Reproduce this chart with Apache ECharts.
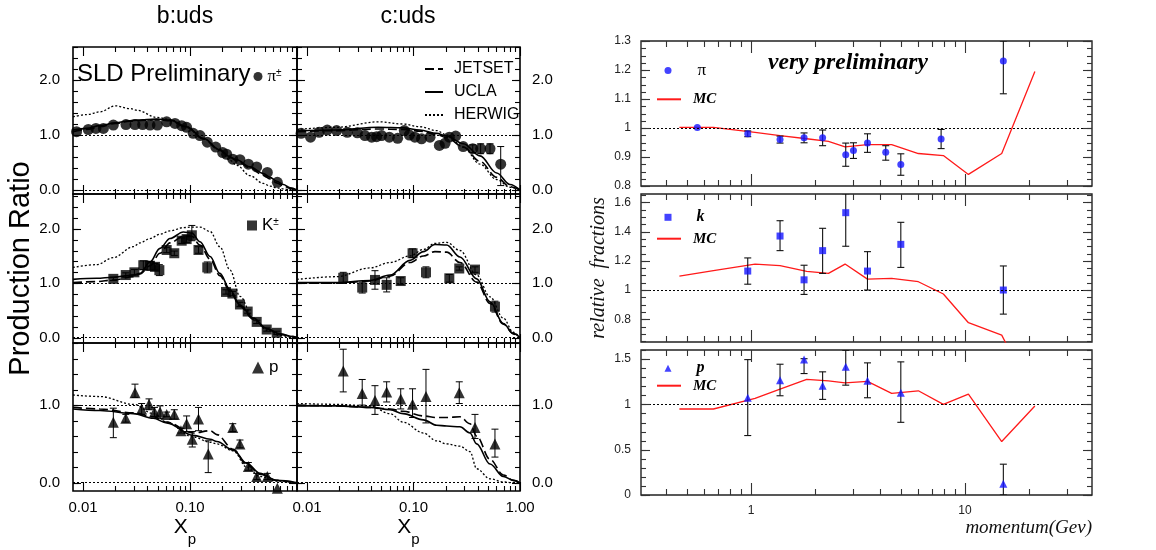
<!DOCTYPE html>
<html><head><meta charset="utf-8">
<script src="https://cdn.jsdelivr.net/npm/echarts@6/dist/echarts.min.js"></script>
<style>html,body{margin:0;padding:0;background:#fff}#c{width:1156px;height:550px}</style>
</head><body><div id="c"></div>
<script>
// ================= DATA =================
// ---- left: production ratio vs x_p ----
// pi+- , b:uds
const piB_x = [0.0087,0.0112,0.0132,0.0155,0.0192,0.0252,0.0306,0.0361,0.0423,0.0495,0.0605,0.0724,0.0836,0.093,0.107,0.124,0.145,0.174,0.202,0.22,0.251,0.293,0.351,0.42,0.528,0.655];
const piB_y = [1.06,1.10,1.12,1.12,1.18,1.19,1.19,1.19,1.18,1.18,1.24,1.21,1.17,1.14,1.03,0.99,0.87,0.78,0.68,0.65,0.56,0.55,0.47,0.42,0.32,0.14];
// pi+- , c:uds
const piC_x = [0.0088,0.0108,0.013,0.0155,0.019,0.0239,0.0297,0.035,0.0405,0.045,0.0502,0.0593,0.071,0.082,0.0914,0.103,0.119,0.143,0.175,0.198,0.217,0.249,0.293,0.36,0.427,0.523,0.659];
const piC_y = [1.03,0.96,1.05,1.09,1.08,1.05,1.04,0.99,0.96,0.97,0.99,0.96,0.94,1.08,1.0,0.96,0.93,0.96,0.81,0.85,0.96,0.98,0.79,0.75,0.75,0.75,0.47];
const piC_eUp = [0,0,0,0,0,0,0,0,0,0,0,0,0,0,0,0,0,0,0,0,0,0,0,0.07,0.09,0.09,0.32];
const piC_eDn = [0,0,0,0,0,0,0,0,0,0,0,0,0,0,0,0,0,0,0,0,0,0,0,0.07,0.09,0.09,0.39];
// K+- , b:uds
const KB_x = [0.0192,0.0251,0.0302,0.0366,0.0423,0.0471,0.0517,0.0605,0.0713,0.0836,0.093,0.104,0.12,0.145,0.217,0.249,0.293,0.346,0.42,0.521,0.646];
const KB_y = [1.08,1.15,1.20,1.33,1.32,1.30,1.24,1.61,1.55,1.78,1.81,1.88,1.61,1.29,0.84,0.81,0.61,0.48,0.29,0.15,0.09];
const KB_eUp = [0.03,0.04,0.05,0.08,0.08,0.06,0.10,0.05,0.04,0.05,0.06,0.18,0.06,0.10,0.04,0.04,0.04,0.03,0.03,0.03,0.03];
const KB_eDn = [0.03,0.04,0.05,0.08,0.08,0.06,0.10,0.05,0.04,0.05,0.06,0.10,0.06,0.10,0.04,0.04,0.04,0.03,0.03,0.03,0.03];
// K+- , c:uds
const KC_x = [0.0219,0.033,0.0435,0.056,0.0759,0.098,0.131,0.217,0.269,0.378,0.582];
const KC_y = [1.10,0.92,1.06,0.97,1.04,1.55,1.20,1.09,1.27,1.25,0.57];
const KC_err = [0.10,0.10,0.17,0.13,0.06,0.08,0.10,0.07,0.03,0.05,0.10];
// p , b:uds
const pB_x = [0.0192,0.0251,0.0306,0.0353,0.0414,0.0465,0.0525,0.0605,0.0713,0.0823,0.093,0.105,0.12,0.148,0.251,0.293,0.351,0.42,0.528,0.655];
const pB_y = [0.78,0.83,1.16,0.95,1.01,0.91,0.91,0.88,0.88,0.67,0.76,0.56,0.82,0.37,0.71,0.50,0.21,0.08,0.08,-0.07];
const pB_eUp = [0.18,0.05,0.11,0.07,0.07,0.06,0.08,0.03,0.06,0.03,0.10,0.10,0.15,0.17,0.05,0.05,0.05,0.04,0.04,0];
const pB_eDn = [0.20,0.05,0.06,0.07,0.07,0.06,0.08,0.03,0.06,0.03,0.10,0.10,0.15,0.24,0.05,0.05,0.05,0.04,0.04,0];
// p , c:uds
const pC_x = [0.0219,0.033,0.0435,0.056,0.0759,0.098,0.131,0.269,0.378,0.582];
const pC_y = [1.44,1.15,1.06,1.17,1.08,1.01,1.11,1.16,0.71,0.50];
const pC_eUp = [0.28,0.18,0.19,0.13,0.13,0.20,0.35,0.14,0.17,0.19];
const pC_eDn = [0.27,0.15,0.18,0.13,0.13,0.17,0.34,0.14,0.14,0.17];

// ---- model curves (JETSET / UCLA / HERWIG) ----
const cvA_x = [0.00806,0.0108,0.0144,0.02,0.0275,0.032,0.049,0.065,0.093,0.133,0.19,0.237,0.273,0.364,0.484,0.56,0.646,0.745,0.861,1.0];
const jetA  = [1.06,1.10,1.15,1.21,1.25,1.26,1.28,1.26,1.14,0.93,0.72,0.59,0.53,0.40,0.27,0.20,0.13,0.08,0.03,0.0];
const uclaA = [1.09,1.12,1.17,1.22,1.26,1.27,1.29,1.27,1.15,0.94,0.73,0.60,0.55,0.42,0.30,0.23,0.16,0.10,0.04,0.0];
const herA  = [1.33,1.37,1.42,1.53,1.48,1.45,1.32,1.28,1.15,0.94,0.73,0.54,0.45,0.26,0.12,0.07,0.04,0.02,0.005,0.0];

const cvB_x = [0.00806,0.019,0.0467,0.08,0.115,0.165,0.205,0.294,0.421,0.604,0.805,1.0];
const jetB  = [1.06,1.08,1.11,1.10,1.07,1.01,0.95,0.78,0.52,0.23,0.06,0.0];
const uclaB = [1.07,1.09,1.14,1.13,1.09,1.03,0.98,0.84,0.62,0.31,0.10,0.0];
const herB  = [1.10,1.14,1.24,1.20,1.15,1.08,1.00,0.78,0.47,0.19,0.05,0.0];

const cvC_x = [0.00806,0.0134,0.0192,0.0295,0.0341,0.0423,0.0524,0.065,0.0866,0.104,0.124,0.154,0.19,0.237,0.293,0.39,0.52,0.694,0.918,1.0];
const jetC  = [1.01,1.03,1.06,1.12,1.17,1.32,1.55,1.74,1.86,1.86,1.70,1.44,1.14,0.85,0.58,0.34,0.16,0.06,0.02,0.0];
const uclaC = [1.07,1.09,1.11,1.15,1.18,1.39,1.64,1.82,1.94,1.92,1.76,1.49,1.18,0.88,0.60,0.36,0.17,0.07,0.02,0.0];
const herC  = [1.29,1.34,1.47,1.67,1.74,1.82,1.90,1.96,2.02,2.03,2.03,1.95,1.67,1.24,0.76,0.36,0.14,0.04,0.01,0.0];

const cvD_x = [0.00806,0.019,0.039,0.0602,0.0927,0.124,0.159,0.205,0.273,0.392,0.523,0.697,0.865,1.0];
const jetD  = [1.00,1.00,1.04,1.13,1.38,1.50,1.58,1.57,1.38,1.02,0.63,0.25,0.07,0.0];
const uclaD = [1.01,1.01,1.05,1.15,1.42,1.58,1.71,1.70,1.48,1.08,0.66,0.26,0.08,0.0];
const herD  = [1.07,1.12,1.28,1.38,1.50,1.62,1.73,1.75,1.60,1.15,0.75,0.36,0.10,0.0];

const cvE_x = [0.00806,0.0144,0.0295,0.0454,0.0605,0.107,0.155,0.178,0.254,0.339,0.451,0.646,1.0];
const jetE  = [0.97,0.95,0.90,0.85,0.78,0.64,0.67,0.62,0.43,0.23,0.11,0.03,0.0];
const uclaE = [0.95,0.93,0.89,0.83,0.77,0.61,0.56,0.53,0.42,0.25,0.12,0.03,0.0];
const herE  = [1.13,1.11,1.01,0.89,0.78,0.59,0.52,0.50,0.41,0.20,0.08,0.02,0.0];

const cvF_x = [0.00806,0.019,0.039,0.0602,0.08,0.124,0.165,0.205,0.273,0.339,0.392,0.523,0.697,0.865,1.0];
const jetF  = [1.00,0.99,0.97,0.95,0.92,0.86,0.84,0.84,0.85,0.76,0.60,0.30,0.10,0.03,0.0];
const uclaF = [0.99,0.99,0.97,0.94,0.89,0.81,0.74,0.73,0.72,0.64,0.50,0.24,0.08,0.03,0.0];
const herF  = [1.02,1.01,0.99,0.89,0.78,0.64,0.54,0.50,0.47,0.40,0.18,0.05,0.01,0.0,0.0];

// ---- right: relative fractions vs momentum ----
const mom_mc = [0.4625,0.667,1.044,1.366,1.82,2.30,2.75,3.50,4.54,6.05,7.92,10.37,14.84,21.2];
const mcPi = [1.002,1.002,0.985,0.974,0.963,0.954,0.935,0.943,0.943,0.912,0.905,0.84,0.912,1.195];
const mcK  = [1.096,1.133,1.178,1.167,1.128,1.114,1.178,1.075,1.08,1.057,0.973,0.776,0.691,0.25];
const mcP  = [0.949,0.949,1.066,1.168,1.275,1.26,1.238,1.253,1.121,1.15,1.0,1.114,0.59,0.982];

const piR_x = [0.561,0.965,1.366,1.769,2.16,2.77,3.01,3.50,4.26,5.01,7.73,15.1];
const piR_y = [1.002,0.98,0.96,0.966,0.966,0.908,0.922,0.948,0.916,0.874,0.962,1.231];
const piR_eUp = [0,0.01,0.012,0.017,0.027,0.04,0.027,0.032,0.023,0.037,0.033,0.069];
const piR_eDn = [0,0.01,0.012,0.017,0.027,0.04,0.027,0.032,0.027,0.037,0.033,0.113];

const kpR_x = [0.965,1.366,1.769,2.16,2.77,3.50,5.01,15.1];
const kR_y = [1.13,1.37,1.07,1.27,1.53,1.13,1.313,1.0];
const kR_eUp = [0.09,0.105,0.10,0.153,0.13,0.133,0.151,0.165];
const kR_eDn = [0.09,0.10,0.10,0.156,0.23,0.13,0.158,0.165];
const pR_y = [1.073,1.267,1.494,1.205,1.414,1.26,1.128,0.125];
const pR_eUp = [0.421,0.176,0.01,0.154,0.183,0.198,0.341,0.215];
const pR_eDn = [0.417,0.172,0.154,0.15,0.202,0.187,0.326,0.125];

// ---- tick values ----
const xpMajor = [0.01,0.1,1];
const xpMinor = [0.02,0.03,0.04,0.05,0.06,0.07,0.08,0.09,0.2,0.3,0.4,0.5,0.6,0.7,0.8,0.9];
const momMajor = [1,10];
const momMinor = [0.4,0.5,0.6,0.7,0.8,0.9,2,3,4,5,6,7,8,9,20,30];
const ratioLabelsTall = [0,1,2];
const ratioLabelsShort = [0,1];
const piFracLabels = [0.8,0.9,1,1.1,1.2,1.3];
const kFracLabels = [0.8,1,1.2,1.4,1.6];
const pFracLabels = [0,0.5,1,1.5];
const refLinesLeft = [0,1];
const refLinesRight = [1];

// ================= LAYOUT / STYLE =================
const SANS = '"Liberation Sans", Arial, Helvetica, sans-serif';
const SERIF = '"Liberation Serif", "Times New Roman", serif';
const BLUE = '#1414ff';
const RED = '#ff1a1a';
const CLEAR = 'rgba(0,0,0,0)';
function steps(a, b, s) { const r = []; for (let i = 0; a + i * s <= b + 1e-9; i++) r.push(+(a + i * s).toFixed(4)); return r; }

const grids = [
  {left:73, top:47, width:224, height:147},
  {left:297, top:47, width:223, height:147},
  {left:73, top:194, width:224, height:149},
  {left:297, top:194, width:223, height:149},
  {left:73, top:343, width:224, height:148},
  {left:297, top:343, width:223, height:148},
  {left:641, top:41, width:451, height:145},
  {left:641, top:194, width:451, height:148},
  {left:641, top:350, width:451, height:145}
];
const yRanges = [[-0.073,2.6],[-0.073,2.6],[-0.097,2.637],[-0.097,2.637],[-0.107,1.8],[-0.107,1.8],[0.8,1.3],[0.644,1.658],[0,1.6]];

const xAxes = [], yAxes = [], series = [];
function plainAxis(base, labelCfg) {
  return Object.assign({}, base, {
    axisLine: {show:false, onZero:false},
    axisTick: {show:false},
    axisLabel: labelCfg ? Object.assign({show:true}, labelCfg) : {show:false},
    splitLine: {show:false}, minorTick: {show:false}, minorSplitLine: {show:false}
  });
}
// inside tick marks on both opposite edges of a grid, positioned through the grid's own axes
function tickSeries(g, vals, isX, L, color, ref) {
  const box = grids[g];
  const data = vals.map(v => isX ? [v, ref] : [ref, v]);
  series.push({type:'custom', xAxisIndex:g, yAxisIndex:g, silent:true, clip:false, z:6, data:data,
    dimensions:['x','y'], encode:{x:0, y:1},
    renderItem:function(params, api) {
      const p = api.coord([api.value(0), api.value(1)]);
      const st = {stroke:color, lineWidth:1.1};
      if (isX) {
        const bx = Math.round(p[0]) + 0.5, yb = box.top + box.height, yt = box.top;
        return {type:'group', children:[
          {type:'line', shape:{x1:bx, y1:yb, x2:bx, y2:yb - L}, style:st},
          {type:'line', shape:{x1:bx, y1:yt, x2:bx, y2:yt + L}, style:st}]};
      }
      const by = Math.round(p[1]) + 0.5, xl = box.left, xr = box.left + box.width;
      return {type:'group', children:[
        {type:'line', shape:{x1:xl, y1:by, x2:xl + L, y2:by}, style:st},
        {type:'line', shape:{x1:xr, y1:by, x2:xr - L, y2:by}, style:st}]};
    }});
}

grids.forEach((g, i) => {
  const left = i < 6;
  const isC = left && (i % 2 === 1);
  const col = left ? '#000' : '#333';
  const xb = left ? {type:'log', min:0.00806, max:1} : {type:'log', min:0.306, max:39.2};
  let xLab = null;
  if (i === 4) xLab = {customValues:[0.01,0.1], formatter:v => (+v).toFixed(2), fontFamily:SANS, fontSize:15, color:'#000', margin:9};
  if (i === 5) xLab = {customValues:[0.01,0.1,1], formatter:v => (+v).toFixed(2), fontFamily:SANS, fontSize:15, color:'#000', margin:9};
  if (i === 8) xLab = {customValues:[1,10], formatter:v => String(+v), fontFamily:SANS, fontSize:12, color:'#222', margin:10};
  const xMain = plainAxis(Object.assign({gridIndex:i, position:'bottom'}, xb), xLab);
  if (i === 4 || i === 5) {
    xMain.name = '{x|X}{p|p}';
    xMain.nameLocation = 'middle';
    xMain.nameGap = 26;
    xMain.nameTextStyle = {rich:{
      x:{fontSize:21, fontFamily:SANS, color:'#000', lineHeight:30, verticalAlign:'top'},
      p:{fontSize:15, fontFamily:SANS, color:'#000', lineHeight:30, verticalAlign:'bottom'}}};
  }
  xAxes.push(xMain);

  const yb = {type:'value', min:yRanges[i][0], max:yRanges[i][1]};
  let yMaj, yMin;
  if (left) { yMaj = (i >= 4) ? ratioLabelsShort : ratioLabelsTall; yMin = steps(0, i >= 4 ? 1.8 : 2.6, 0.2); }
  else if (i === 6) { yMaj = piFracLabels; yMin = steps(0.8, 1.3, 0.025); }
  else if (i === 7) { yMaj = kFracLabels; yMin = steps(0.65, 1.65, 0.05); }
  else { yMaj = pFracLabels; yMin = steps(0, 1.6, 0.1); }
  const lab = left ? {customValues:yMaj, formatter:v => (+v).toFixed(1), fontFamily:SANS, fontSize:15, color:'#000', margin: isC ? 12 : 13}
                   : {customValues:yMaj, formatter:v => String(+(+v).toFixed(3)), fontFamily:SANS, fontSize:12, color:'#222', margin:10};
  const yMain = plainAxis(Object.assign({gridIndex:i, position: isC ? 'right' : 'left'}, yb), lab);
  if (i === 2) {
    yMain.name = 'Production Ratio'; yMain.nameLocation = 'middle'; yMain.nameGap = 33;
    yMain.nameTextStyle = {fontFamily:SANS, fontSize:29, color:'#000'};
  }
  if (i === 7) {
    yMain.name = 'relative  fractions'; yMain.nameLocation = 'middle'; yMain.nameGap = 32;
    yMain.nameTextStyle = {fontFamily:SERIF, fontStyle:'italic', fontSize:20, color:'#111'};
  }
  yAxes.push(yMain);

  const xMid = left ? 0.1 : 3, yMid = (yb.min + yb.max) / 2;
  tickSeries(i, left ? xpMajor : momMajor, true, left ? 9 : 12, col, yMid);
  tickSeries(i, left ? xpMinor : momMinor, true, left ? 5 : 6, col, yMid);
  tickSeries(i, yMaj, false, left ? 8 : 9, col, xMid);
  tickSeries(i, yMin, false, 5, col, xMid);
});

// ================= SERIES =================
function pairs(xs, ys) { return xs.map((x, k) => [x, ys[k]]); }
function modelLines(g, xs, jet, ucla, her) {
  const common = {type:'line', xAxisIndex:g, yAxisIndex:g, symbol:'none', smooth:0.35, smoothMonotone:'x', silent:true, z:2,
    itemStyle:{color:CLEAR, borderColor:CLEAR, borderWidth:0}};
  series.push(Object.assign({name:'JETSET', data:pairs(xs, jet), lineStyle:{color:'#000', width:1.6, type:[9,4]}}, common));
  series.push(Object.assign({name:'UCLA', data:pairs(xs, ucla), lineStyle:{color:'#000', width:1.6, type:'solid'}}, common));
  series.push(Object.assign({name:'HERWIG', data:pairs(xs, her), lineStyle:{color:'#000', width:1.3, type:[2,2]}}, common));
}
function errBars(g, xs, ys, up, dn, cap, color, width) {
  const data = [];
  xs.forEach((x, k) => { if (up[k] > 0 || dn[k] > 0) data.push([x, ys[k] - dn[k], ys[k] + up[k]]); });
  series.push({type:'custom', xAxisIndex:g, yAxisIndex:g, silent:true, z:3, clip:true,
    encode:{x:0, y:[1,2]}, data:data,
    renderItem:function(params, api) {
      const x = api.value(0), a = api.coord([x, api.value(1)]), b = api.coord([x, api.value(2)]);
      const st = {stroke:color, lineWidth:width};
      return {type:'group', children:[
        {type:'line', shape:{x1:a[0], y1:a[1], x2:b[0], y2:b[1]}, style:st},
        {type:'line', shape:{x1:a[0]-cap, y1:a[1], x2:a[0]+cap, y2:a[1]}, style:st},
        {type:'line', shape:{x1:b[0]-cap, y1:b[1], x2:b[0]+cap, y2:b[1]}, style:st}]};
    }});
}
function points(g, name, xs, ys, symbol, size, color, refs) {
  series.push({type:'scatter', name:name, xAxisIndex:g, yAxisIndex:g, data:pairs(xs, ys),
    symbol:symbol, symbolSize:size, itemStyle:{color:color}, z:4, silent:true,
    markLine:{silent:true, symbol:['none','none'], label:{show:false}, animation:false,
      lineStyle:{color:'#000', width:1, type:[2,2]}, emphasis:{disabled:true},
      data:refs.map(v => ({yAxis:v}))}});
}

modelLines(0, cvA_x, jetA, uclaA, herA);
modelLines(1, cvB_x, jetB, uclaB, herB);
modelLines(2, cvC_x, jetC, uclaC, herC);
modelLines(3, cvD_x, jetD, uclaD, herD);
modelLines(4, cvE_x, jetE, uclaE, herE);
modelLines(5, cvF_x, jetF, uclaF, herF);

errBars(1, piC_x, piC_y, piC_eUp, piC_eDn, 3.5, '#000', 1);
errBars(2, KB_x, KB_y, KB_eUp, KB_eDn, 3.5, '#000', 1);
errBars(3, KC_x, KC_y, KC_err, KC_err, 3.5, '#000', 1);
errBars(4, pB_x, pB_y, pB_eUp, pB_eDn, 3.5, '#000', 1);
errBars(5, pC_x, pC_y, pC_eUp, pC_eDn, 3.5, '#000', 1);

points(0, 'π±', piB_x, piB_y, 'circle', 11, '#000', refLinesLeft);
points(1, 'π±', piC_x, piC_y, 'circle', 11, '#000', refLinesLeft);
points(2, 'K±', KB_x, KB_y, 'rect', 10, '#000', refLinesLeft);
points(3, 'K±', KC_x, KC_y, 'rect', 10, '#000', refLinesLeft);
points(4, 'p', pB_x, pB_y, 'triangle', 11, '#000', refLinesLeft);
points(5, 'p', pC_x, pC_y, 'triangle', 11, '#000', refLinesLeft);

function mcLine(g, ys) {
  series.push({type:'line', name:'MC', xAxisIndex:g, yAxisIndex:g, data:pairs(mom_mc, ys), symbol:'none',
    lineStyle:{color:RED, width:1.3}, itemStyle:{color:CLEAR, borderColor:CLEAR, borderWidth:0}, silent:true, z:2, clip:true});
}
mcLine(6, mcPi); mcLine(7, mcK); mcLine(8, mcP);
errBars(6, piR_x, piR_y, piR_eUp, piR_eDn, 3.5, '#111', 1.1);
errBars(7, kpR_x, kR_y, kR_eUp, kR_eDn, 3.5, '#111', 1.1);
errBars(8, kpR_x, pR_y, pR_eUp, pR_eDn, 3.5, '#111', 1.1);
points(6, 'π', piR_x, piR_y, 'circle', 7, BLUE, refLinesRight);
points(7, 'k', kpR_x, kR_y, 'rect', 7, BLUE, refLinesRight);
points(8, 'p', kpR_x, pR_y, 'triangle', 8, BLUE, refLinesRight);

// ================= LEGENDS =================
const supRich = {s:{fontSize:10, verticalAlign:'top', fontFamily:SANS, color:'#000', lineHeight:16}};
const bi = {fontFamily:SERIF, fontStyle:'italic', fontWeight:'bold', color:'#000', lineHeight:16};
function mcLegend(top) {
  return {data:[{name:'MC', textStyle:Object.assign({fontSize:15, padding:[0,0,0,7]}, bi)}],
    left:656, top:top, itemWidth:24, itemHeight:7, textStyle:{color:'#000', lineHeight:16}};
}
function markLegend(name, icon, top, ts) {
  return {data:[{name:name, icon:icon, itemStyle:{color:BLUE}, textStyle:ts}],
    left:664.5, top:top, itemWidth:7, itemHeight:7, textStyle:{color:'#000', lineHeight:16}};
}
const legends = [
  {data:['JETSET','UCLA','HERWIG'], orient:'vertical', left:424, top:61, itemWidth:18, itemHeight:10, itemGap:7,
   textStyle:{fontFamily:SANS, fontSize:16, color:'#000', lineHeight:16, padding:[0,0,0,6]}},
  {data:[{name:'π±', icon:'circle', itemStyle:{color:'#000'}}], left:253.5, top:68, itemWidth:9, itemHeight:9,
   formatter:n => n.replace('±', '{s|±}'), textStyle:{fontFamily:SERIF, fontSize:17, color:'#000', lineHeight:16, rich:supRich}},
  {data:[{name:'K±', icon:'rect', itemStyle:{color:'#000'}}], left:247, top:217, itemWidth:10, itemHeight:10,
   formatter:n => n.replace('±', '{s|±}'), textStyle:{fontFamily:SANS, fontSize:17, color:'#000', lineHeight:16, rich:supRich}},
  {data:[{name:'p', icon:'triangle', itemStyle:{color:'#000'}}], left:252, top:359, itemWidth:12, itemHeight:12,
   textStyle:{fontFamily:SANS, fontSize:17, color:'#000', lineHeight:16}},
  markLegend('π', 'circle', 62, {fontFamily:SERIF, fontSize:17, color:'#000', lineHeight:16, padding:[0,0,0,21]}),
  mcLegend(91.3),
  markLegend('k', 'rect', 209.3, Object.assign({fontSize:16, padding:[0,0,0,20]}, bi)),
  mcLegend(230.7),
  markLegend('p', 'triangle', 360.3, Object.assign({fontSize:16, padding:[0,0,0,20]}, bi)),
  mcLegend(377.7)
].map(l => Object.assign({selectedMode:false, padding:0, symbolKeepAspect:true}, l));

// ================= TEXTS =================
const graphic = [
  {type:'text', x:185, y:17, style:{text:'b:uds', font:'23px ' + SANS, fill:'#000', textAlign:'center', textVerticalAlign:'middle'}},
  {type:'text', x:408, y:17, style:{text:'c:uds', font:'23px ' + SANS, fill:'#000', textAlign:'center', textVerticalAlign:'middle'}},
  {type:'text', x:77, y:74, style:{text:'SLD Preliminary', font:'24px ' + SANS, fill:'#000', textAlign:'left', textVerticalAlign:'middle'}},
  {type:'text', x:848, y:63, style:{text:'very preliminary', font:'italic bold 23.5px ' + SERIF, fill:'#000', textAlign:'center', textVerticalAlign:'middle'}},
  {type:'text', x:1092, y:528, style:{text:'momentum(Gev)', font:'italic 19px ' + SERIF, fill:'#111', textAlign:'right', textVerticalAlign:'middle'}}
];

const chart = echarts.init(document.getElementById('c'), null, {renderer:'canvas'});
chart.setOption({
  animation:false,
  backgroundColor:'#fff',
  grid: grids.map((g, i) => Object.assign({show:true, backgroundColor:'transparent', borderColor: i < 6 ? '#000' : '#222',
    borderWidth: i < 6 ? 1.6 : 1.4}, g)),
  xAxis: xAxes, yAxis: yAxes,
  legend: legends,
  series: series,
  graphic: graphic
});
</script>
</body></html>
